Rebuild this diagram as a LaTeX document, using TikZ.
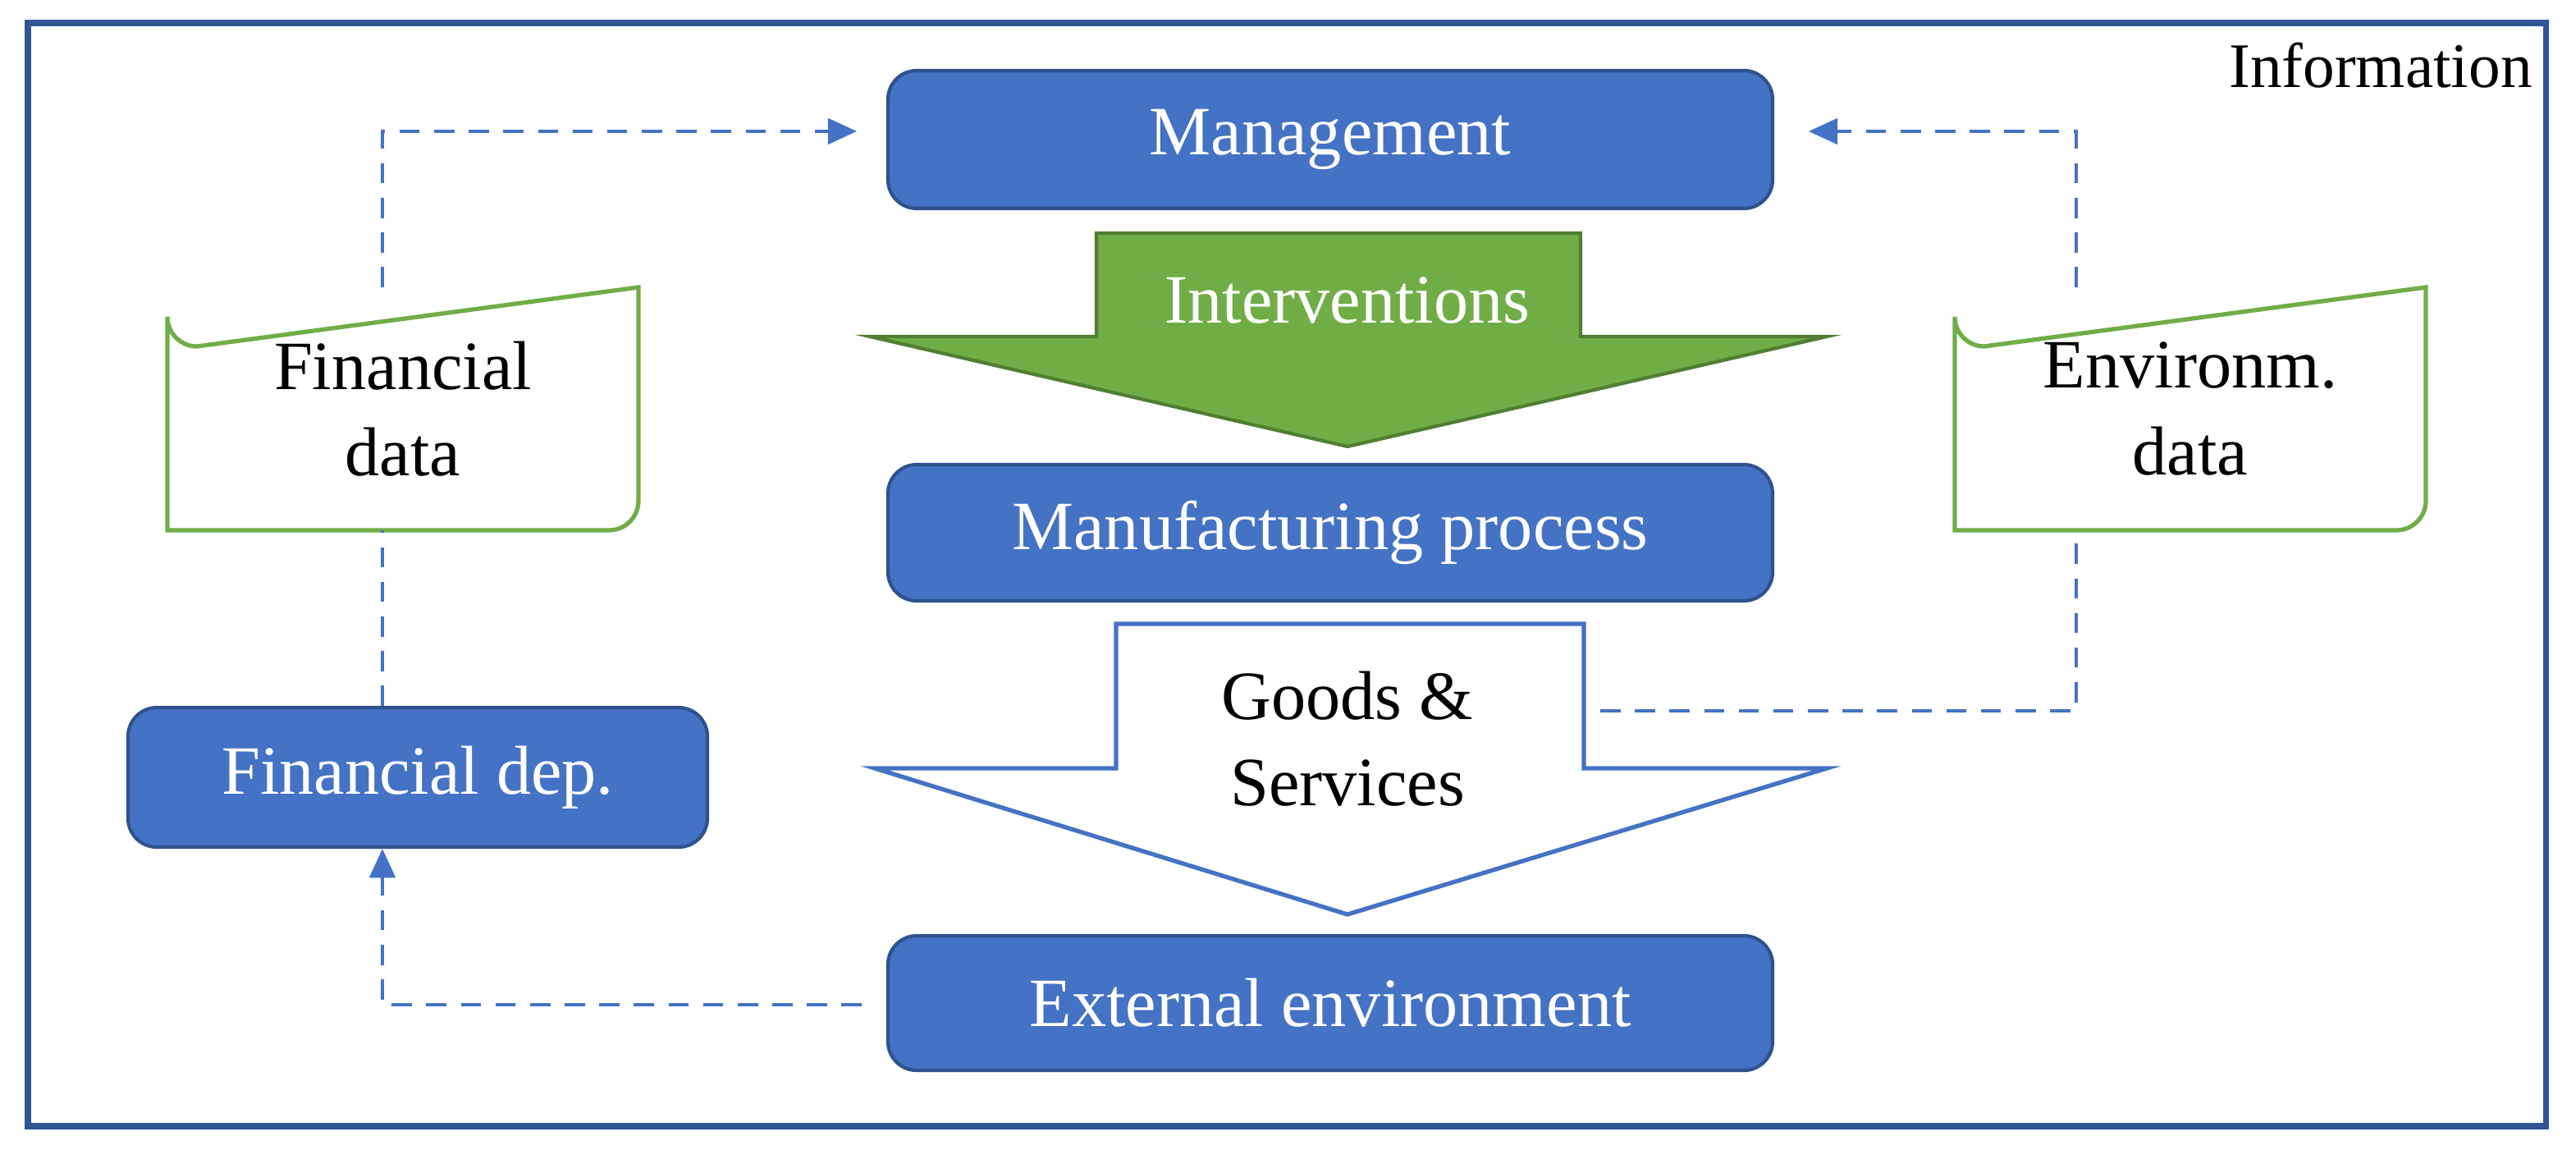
\documentclass[tikz,border=0pt]{standalone}
\usepackage{fontspec}
\setmainfont{Liberation Serif}
\usetikzlibrary{arrows.meta}
\definecolor{fb}{HTML}{4472C4}
\definecolor{db}{HTML}{2F528F}
\definecolor{fr}{HTML}{2F5597}
\definecolor{gr}{HTML}{70AD47}
\definecolor{dg}{HTML}{507E32}
\begin{document}
\begin{tikzpicture}[x=0.02cm,y=-0.02cm,
  box/.style={draw=db,fill=fb,line width=1.2pt,rounded corners=10pt,text=white,font=\fontsize{24}{28}\selectfont},
  data/.style={draw=gr,line width=1.5pt,fill=white},
  dtext/.style={font=\fontsize{24}{30}\selectfont,align=center},
  link/.style={draw=fb,dashed,line width=0.9pt,dash pattern=on 7pt off 5pt},
  tip/.style={-{Triangle[length=10pt,width=9pt]}}]
\useasboundingbox (0,0) rectangle (1569.5,700.5);
\draw[fr,line width=2pt] (17,14) rectangle (1551,686);
\node[anchor=north east,font=\fontsize{22}{26}\selectfont] (info) at (1549,20) {Information};
% boxes
\node[box,minimum width=539\pgflinewidth/\pgflinewidth*0.02cm,minimum height=84*0.02cm] (mgmt) at (810.5,85) {Management};
\node[box,minimum width=539*0.02cm,minimum height=83*0.02cm] (manu) at (810.5,324.5) {Manufacturing process};
\node[box,minimum width=539*0.02cm,minimum height=82*0.02cm] (ext) at (810.5,611) {External environment};
\node[box,minimum width=353*0.02cm,minimum height=85*0.02cm] (fdep) at (254.5,473.5) {Financial dep.};
% arrows
\draw[dg,fill=gr,line width=1.2pt] (668,142) -- (963,142) -- (963,205) -- (1113,205) -- (821,272) -- (530,205) -- (668,205) -- cycle;
\node[text=white,font=\fontsize{24}{28}\selectfont] (interv) at (821,183) {Interventions};
\draw[fb,fill=white,line width=1.5pt] (680,380) -- (965,380) -- (965,468) -- (1113,468) -- (821,557) -- (533,468) -- (680,468) -- cycle;
\node[dtext] (goods) at (821,450) {Goods \&\\Services};
% data boxes
\draw[data] (102,193) arc[start angle=180,end angle=90,radius=18] -- (389,175) -- (389,305) arc[start angle=0,end angle=90,radius=18] -- (102,323) -- cycle;
\node[dtext] (fdata) at (245.5,249) {Financial\\data};
\coordinate (fdT) at (233,175); \coordinate (fdB) at (233,323);
\draw[data] (1191,193) arc[start angle=180,end angle=90,radius=18] -- (1478,175) -- (1478,305) arc[start angle=0,end angle=90,radius=18] -- (1191,323) -- cycle;
\node[dtext] (edata) at (1334.5,249) {Environm.\\data};
\coordinate (edT) at (1265,175); \coordinate (edB) at (1265,323);
% connectors
\coordinate (mL) at (522,80); \coordinate (mR) at (1102,80);
\coordinate (gR) at (975,433);
\coordinate (eL) at (525,612);
\draw[link] (fdep.north -| fdB) -- (fdB);
\draw[link,tip] (fdT) |- (mL);
\draw[link] (gR) -| (edB);
\draw[link,tip] (edT) |- (mR);
\draw[link,tip] (eL) -| (fdep.south -| fdB);
\end{tikzpicture}
\end{document}
